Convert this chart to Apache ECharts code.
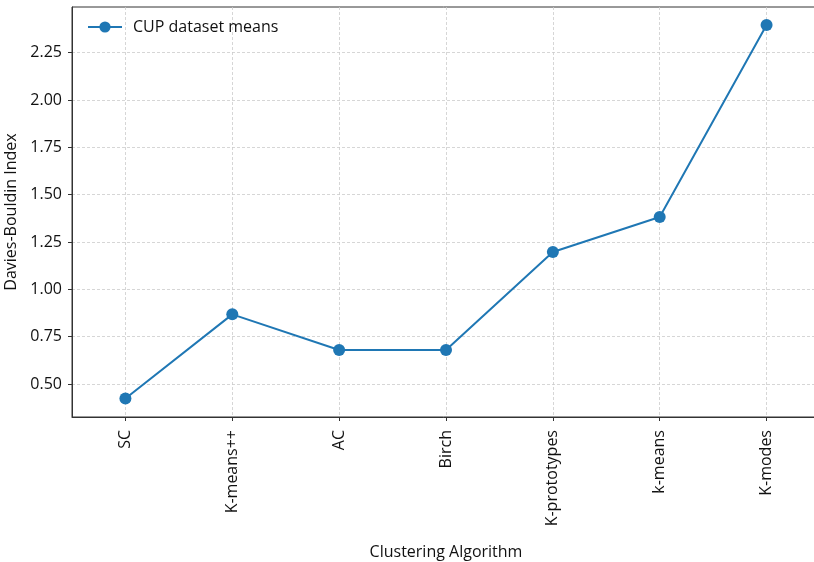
<!DOCTYPE html>
<html>
<head>
<meta charset="utf-8">
<script src="https://cdn.jsdelivr.net/npm/echarts@6/dist/echarts.min.js"></script>
<style>
  html, body { margin: 0; padding: 0; background: #fff; }
  #chart { width: 814px; height: 562px; }
</style>
</head>
<body>
<div id="chart"></div>
<script>
// Clustering algorithms along the x axis
const categories = ['SC', 'K-means++', 'AC', 'Birch', 'K-prototypes', 'k-means', 'K-modes'];
// Mean Davies-Bouldin index on the CUP dataset
const dbMeans = [0.424, 0.868, 0.680, 0.680, 1.197, 1.382, 2.396];
// Y tick labels
const yTicks = [0.50, 0.75, 1.00, 1.25, 1.50, 1.75, 2.00, 2.25];
const xTicks = categories.map((_, i) => i);

const FONT = '"Open Sans", "Noto Sans", sans-serif';
const FONT_SIZE = 16;
const TEXT_COLOR = '#111';
const AXIS_COLOR = '#333';
const GRID_LINE = { show: true, lineStyle: { color: '#cccccc', type: [3, 2], width: 0.8 } };

const chart = echarts.init(document.getElementById('chart'), null, { renderer: 'canvas' });

chart.setOption({
  animation: false,
  textStyle: { fontFamily: FONT },
  grid: {
    left: 72, top: 7, right: -6, bottom: 145,
    containLabel: false,
    outerBoundsMode: 'none',
    show: true, borderColor: AXIS_COLOR, borderWidth: 1, backgroundColor: 'transparent'
  },
  legend: {
    left: 82, top: 14,
    itemWidth: 34, itemHeight: 14, itemGap: 10,
    textStyle: { fontFamily: FONT, fontSize: FONT_SIZE, color: TEXT_COLOR, padding: [0, 0, 0, 6] },
    data: ['CUP dataset means']
  },
  xAxis: {
    type: 'value',
    min: -0.5, max: 6.5,
    name: 'Clustering Algorithm',
    nameLocation: 'middle',
    nameGap: 127,
    nameTextStyle: { fontFamily: FONT, fontSize: FONT_SIZE, color: TEXT_COLOR },
    axisLine: { show: true, onZero: false, lineStyle: { color: AXIS_COLOR, width: 1 } },
    axisTick: { show: true, length: 4, inside: false, customValues: xTicks, lineStyle: { color: AXIS_COLOR } },
    axisLabel: {
      customValues: xTicks,
      rotate: 90, margin: 13,
      fontFamily: FONT, fontSize: FONT_SIZE, color: TEXT_COLOR,
      formatter: v => categories[Math.round(v)] ?? ''
    },
    splitLine: GRID_LINE
  },
  yAxis: {
    type: 'value',
    min: 0.326, max: 2.491,
    name: 'Davies-Bouldin Index',
    nameLocation: 'middle',
    nameGap: 47,
    nameTextStyle: { fontFamily: FONT, fontSize: FONT_SIZE, color: TEXT_COLOR },
    axisLine: { show: true, onZero: false, lineStyle: { color: AXIS_COLOR, width: 1 } },
    axisTick: { show: true, length: 4, customValues: yTicks, lineStyle: { color: AXIS_COLOR } },
    axisLabel: {
      customValues: yTicks,
      margin: 10,
      fontFamily: FONT, fontSize: FONT_SIZE, color: TEXT_COLOR,
      formatter: v => v.toFixed(2)
    },
    splitLine: GRID_LINE
  },
  series: [{
    name: 'CUP dataset means',
    type: 'line',
    data: dbMeans.map((v, i) => [i, v]),
    symbol: 'circle',
    symbolSize: 12,
    itemStyle: { color: '#1f77b4' },
    lineStyle: { color: '#1f77b4', width: 2 },
    clip: false
  }]
});
</script>
</body>
</html>
